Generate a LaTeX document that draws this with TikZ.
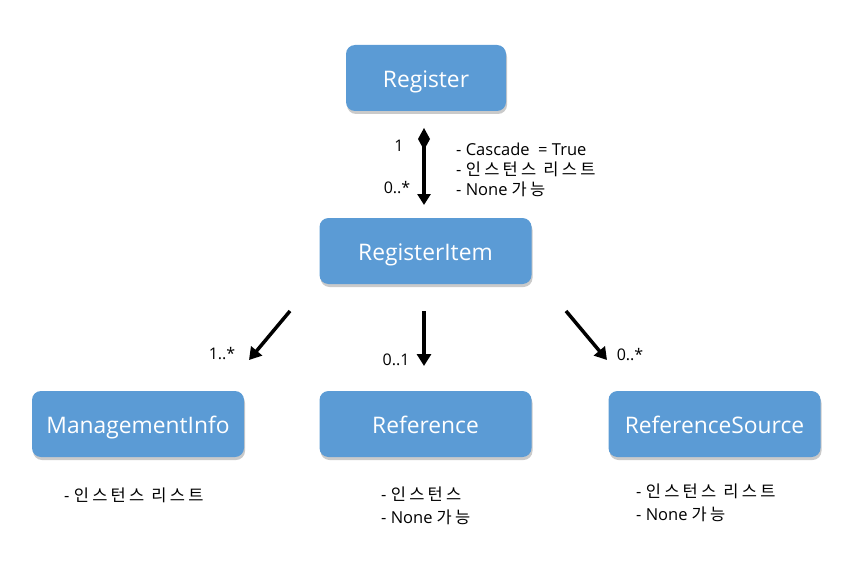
\documentclass[tikz,border=0pt]{standalone}
\usepackage{fontspec}
\setmainfont{Open Sans}
\newfontfamily\kr[LetterSpace=20]{Noto Sans CJK KR}
\newcommand{\nonegn}{None\hspace{4pt}{\kr 가능}}
\usetikzlibrary{arrows.meta,shadows}
\definecolor{boxblue}{HTML}{5B9BD5}
\tikzset{
  cls/.style={rectangle, rounded corners=9pt, fill=boxblue, text=white,
    minimum width=212pt, minimum height=66pt, font=\fontsize{22.8}{26}\selectfont,
    text height=19pt, text depth=0pt,
    drop shadow={shadow xshift=1pt, shadow yshift=-3pt, opacity=0.35, fill=black!60}},
  assoc/.style={line width=3.5pt, -{Triangle[length=12pt,width=14pt]}},
  comp/.style={line width=3.5pt, {Diamond[length=22pt,width=12pt]}-{Triangle[length=11pt,width=13pt]}},
  mult/.style={font=\fontsize{16}{19}\selectfont, inner sep=0pt},
  note/.style={font=\fontsize{16.5}{20}\selectfont, align=left, inner sep=0pt, anchor=north west},
  noteb/.style={note, font=\fontsize{16.5}{23}\selectfont}
}
\begin{document}
\begin{tikzpicture}[x=1pt,y=-1pt]
\useasboundingbox (0,0) rectangle (845,572);
\node[cls, minimum width=160pt] (reg) at (426,78) {Register};
\node[cls] (item) at (425.5,251) {RegisterItem};
\node[cls] (mi) at (138,424) {ManagementInfo};
\node[cls] (ref) at (425.5,424) {Reference};
\node[cls] (rs) at (714.5,424) {ReferenceSource};
% composition
\coordinate (c1s) at (424,128);
\coordinate (c1e) at (424,205);
\draw[comp] (c1s) -- (c1e);
\node[mult] (m1) at (399,146) {1};
\node[mult] (m2) at (397,188) {0..*};
\node[note] (n1) at (456,143) {- Cascade\ \ = True\\- {\kr 인스턴스 리스트}\\- \nonegn};
% associations
\coordinate (a1s) at (290,311);
\coordinate (a1e) at (249,360);
\draw[assoc] (a1s) -- (a1e);
\coordinate (a2s) at (424,311);
\coordinate (a2e) at (424,366);
\draw[assoc] (a2s) -- (a2e);
\coordinate (a3s) at (566,311);
\coordinate (a3e) at (607,360);
\draw[assoc] (a3s) -- (a3e);
\node[mult] (m3) at (222,354) {1..*};
\node[mult] (m4) at (396,360) {0..1};
\node[mult] (m5) at (630,355) {0..*};
% notes
\node[noteb] (n2) at (64,488) {- {\kr 인스턴스 리스트}};
\node[noteb] (n3) at (381,487) {- {\kr 인스턴스}\\- \nonegn};
\node[noteb] (n4) at (636,484) {- {\kr 인스턴스 리스트}\\- \nonegn};
\end{tikzpicture}
\end{document}
